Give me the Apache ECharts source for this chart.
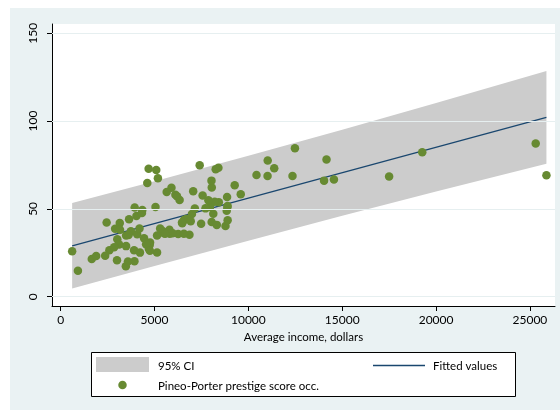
<!DOCTYPE html>
<html>
<head>
<meta charset="utf-8">
<script src="https://cdn.jsdelivr.net/npm/echarts@6/dist/echarts.min.js"></script>
<style>
html,body{margin:0;padding:0;background:#ffffff;}
#chart{width:560px;height:410px;}
</style>
</head>
<body>
<div id="chart"></div>
<script>
// Average income (dollars) per occupation
const income = [12351,25879,9271,8865,8403,11030,8258,14163,11377,11023,5902,7059,8425,8049,7405,6336,19263,6112,9593,4686,12480,5648,8034,25308,14558,17498,4614,3485,5092,10432,5180,6197,7562,8206,4036,3148,4348,2448,4330,4761,3016,2901,5511,3739,3161,4741,5052,6259,4075,7482,8780,2594,918,2370,8131,6992,7956,8895,8891,3116,3930,7869,611,3000,3472,3582,3643,1656,6860,4199,5134,5134,1890,4443,3485,8043,6686,6565,6477,5811,6573,3942,5449,2847,5795,7716,4696,8316,7147,8880,5299,5959,4549,6928,3910,14032,8845,5562,4224,4753,6462,3617];
// Pineo-Porter prestige score
const prestige = [68.8,69.1,63.4,56.8,73.5,77.6,72.6,78.1,73.1,68.8,62.0,60.0,53.8,62.2,74.9,55.1,82.3,58.1,58.3,72.8,84.6,59.6,66.1,87.2,66.7,68.4,64.7,34.9,72.1,69.3,67.5,57.2,57.6,54.1,46.0,41.9,49.4,42.3,47.7,30.9,32.7,38.7,36.1,37.2,38.1,29.4,51.1,35.7,35.6,41.5,40.2,26.5,14.8,23.3,47.3,47.1,51.1,43.5,51.6,29.7,20.2,54.9,25.9,20.8,17.3,20.1,44.1,21.5,35.3,38.9,25.2,34.8,23.2,33.3,28.8,42.5,44.2,35.9,41.8,35.9,43.7,50.8,37.2,28.2,38.1,50.3,27.3,40.9,50.2,51.1,38.9,36.2,29.9,42.9,26.5,66.1,48.9,35.9,25.1,26.1,42.2,35.2];
// Fitted line end points
const fitX = [611, 25879];
const fitY = [28.9, 102.1];
// 95% CI band
const bandX = [611, 5000, 10000, 15000, 20000, 25879];
const bandLow = [4.6, 17.5, 31.9, 46.1, 59.9, 75.7];
const bandHigh = [53.3, 65.8, 80.3, 95.1, 110.3, 128.5];
// Tick labels
const xTicks = [0, 5000, 10000, 15000, 20000, 25000];
const yTicks = [0, 50, 100, 150];
// Legend labels
const legendNames = ['95% CI', 'Fitted values', 'Pineo-Porter prestige score occ.'];

const FONT = 'Lato';
const BAND = '#CCCCCC', NAVY = '#1A476F', GREEN = '#678A32';
const scatterData = income.map((v, i) => [v, prestige[i]]);
const fitData = fitX.map((v, i) => [v, fitY[i]]);
const bandData = bandX.map((v, i) => [v, bandLow[i], bandHigh[i]]);

const legendFont = {fontFamily: FONT, fontSize: 11.5, fill: '#000', verticalAlign: 'middle', align: 'left'};

const chart = echarts.init(document.getElementById('chart'), null, {renderer: 'canvas'});
chart.setOption({
  animation: false,
  backgroundColor: '#ffffff',
  textStyle: {fontFamily: FONT, color: '#000'},
  graphic: [
    {type: 'rect', z: -10, shape: {x: 10, y: 8, width: 550, height: 402}, style: {fill: '#EAF2F3'}},
    {type: 'group', z: 10, children: [
      {type: 'rect', shape: {x: 91.5, y: 352.5, width: 424, height: 44}, style: {fill: '#ffffff', stroke: '#000', lineWidth: 1}},
      {type: 'rect', shape: {x: 96, y: 357, width: 53, height: 15}, style: {fill: BAND}},
      {type: 'text', x: 158, y: 366, style: Object.assign({text: legendNames[0]}, legendFont)},
      {type: 'line', shape: {x1: 373, y1: 365.5, x2: 425, y2: 365.5}, style: {stroke: NAVY, lineWidth: 1.3}},
      {type: 'text', x: 433, y: 366, style: Object.assign({text: legendNames[1]}, legendFont)},
      {type: 'circle', shape: {cx: 122.5, cy: 385, r: 4.25}, style: {fill: GREEN}},
      {type: 'text', x: 158, y: 386, style: Object.assign({text: legendNames[2]}, legendFont)}
    ]}
  ],
  grid: {left: 52, right: 5, top: 24, bottom: 104, show: true, backgroundColor: '#ffffff', borderWidth: 0},
  xAxis: {
    type: 'value', min: -463, max: 26336,
    name: 'Average income, dollars', nameLocation: 'middle', nameGap: 24,
    nameTextStyle: {fontFamily: FONT, fontSize: 11.5, color: '#000'},
    axisLine: {show: true, onZero: false, lineStyle: {color: '#000', width: 1}},
    axisTick: {show: true, length: 5, lineStyle: {color: '#000'}, customValues: xTicks},
    axisLabel: {customValues: xTicks, fontFamily: FONT, fontSize: 12, color: '#000', margin: 8,
      formatter: v => String(v)},
    splitLine: {show: false}
  },
  yAxis: {
    type: 'value', min: -5.3, max: 155.3,
    axisLine: {show: true, onZero: false, lineStyle: {color: '#000', width: 1}},
    axisTick: {show: true, length: 5, lineStyle: {color: '#000'}, customValues: yTicks},
    axisLabel: {customValues: yTicks, rotate: 90, fontFamily: FONT, fontSize: 12, color: '#000', margin: 13,
      formatter: v => String(v)},
    splitLine: {show: false}
  },
  series: [
    {
      name: legendNames[0], type: 'custom', z: 1,
      itemStyle: {color: BAND},
      data: bandData,
      encode: {x: 0, y: [1, 2]},
      renderItem: function (params, api) {
        if (params.dataIndex !== 0) return null;
        const pts = [];
        bandData.forEach(d => pts.push(api.coord([d[0], d[2]])));
        for (let i = bandData.length - 1; i >= 0; i--) pts.push(api.coord([bandData[i][0], bandData[i][1]]));
        return {type: 'polygon', shape: {points: pts}, style: {fill: BAND}};
      },
      markLine: {
        silent: true, symbol: 'none', label: {show: false},
        lineStyle: {color: '#E6EFF0', width: 1, type: 'solid'},
        data: yTicks.map(v => ({yAxis: v}))
      }
    },
    {
      name: legendNames[1], type: 'line', z: 3, data: fitData,
      symbol: 'none', lineStyle: {color: NAVY, width: 1.3},
      itemStyle: {color: NAVY}
    },
    {
      name: legendNames[2], type: 'scatter', z: 4, data: scatterData,
      symbol: 'circle', symbolSize: 8.5,
      itemStyle: {color: GREEN, opacity: 1}
    }
  ]
});
</script>
</body>
</html>
